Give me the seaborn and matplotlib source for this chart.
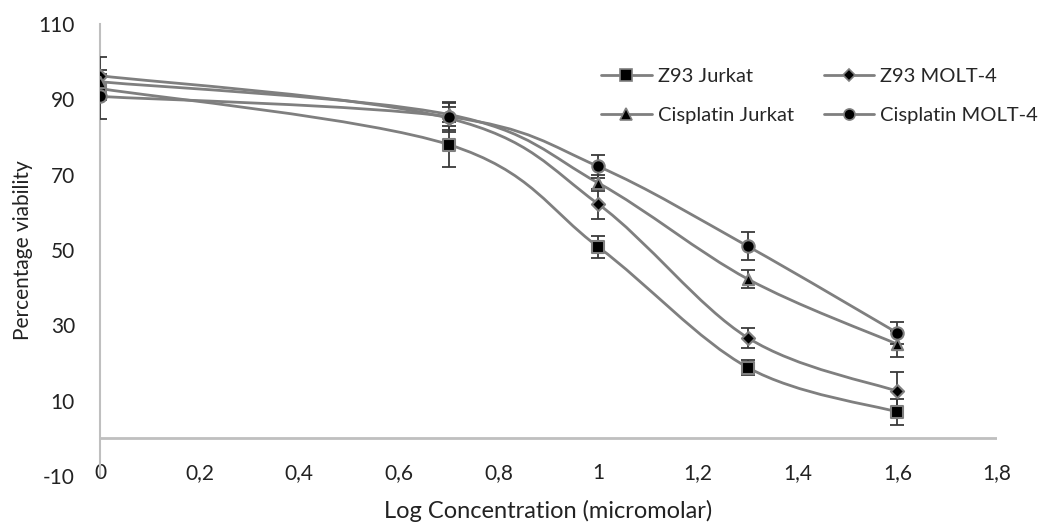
import numpy as np
import pandas as pd
import matplotlib
matplotlib.use("Agg")
import matplotlib.pyplot as plt
from matplotlib.path import Path
from matplotlib.patches import PathPatch
from matplotlib.lines import Line2D
import seaborn as sns

# data
log_conc = [0.0, 0.7, 1.0, 1.3, 1.6]
z93_jurkat = [92.9, 78.0, 50.8, 18.8, 7.0]
z93_jurkat_err = [3.0, 6.0, 3.0, 2.0, 3.5]
z93_molt4 = [96.3, 85.0, 62.2, 26.7, 12.5]
z93_molt4_err = [5.0, 3.0, 4.0, 2.7, 5.0]
cis_jurkat = [94.7, 86.0, 67.8, 42.3, 25.0]
cis_jurkat_err = [3.0, 3.0, 2.0, 2.5, 3.5]
cis_molt4 = [90.8, 85.4, 72.2, 51.0, 28.0]
cis_molt4_err = [6.0, 4.0, 3.0, 3.7, 3.0]

series_names = ["Z93 Jurkat", "Z93 MOLT-4", "Cisplatin Jurkat", "Cisplatin MOLT-4"]
series_vals = [z93_jurkat, z93_molt4, cis_jurkat, cis_molt4]
series_errs = [z93_jurkat_err, z93_molt4_err, cis_jurkat_err, cis_molt4_err]
x_ticks = [0, 0.2, 0.4, 0.6, 0.8, 1.0, 1.2, 1.4, 1.6, 1.8]
x_tick_labels = ["0", "0,2", "0,4", "0,6", "0,8", "1", "1,2", "1,4", "1,6", "1,8"]
y_ticks = [-10, 10, 30, 50, 70, 90, 110]

df = pd.DataFrame({
    "log_conc": np.tile(log_conc, len(series_names)),
    "viability": np.concatenate(series_vals),
    "err": np.concatenate(series_errs),
    "series": np.repeat(series_names, len(log_conc)),
})

sns.set_style("white")
plt.rcParams["font.family"] = ["Lato", "DejaVu Sans"]
plt.rcParams["axes.unicode_minus"] = False

LINE = "#7f7f7f"
TEXT = "#222222"
markers = {"Z93 Jurkat": "s", "Z93 MOLT-4": "D", "Cisplatin Jurkat": "^", "Cisplatin MOLT-4": "o"}
sizes = {"Z93 Jurkat": 80, "Z93 MOLT-4": 45, "Cisplatin Jurkat": 65, "Cisplatin MOLT-4": 80}

fig = plt.figure(figsize=(10.47, 5.23), dpi=100)
ax = fig.add_axes([0.0955, 0.0899, 0.8567, 0.864])


def smooth_path(xs, ys):
    # Excel-like smoothed line: Catmull-Rom segments as cubic Beziers
    p = np.column_stack([xs, ys])
    pts = np.vstack([p[0], p, p[-1]])
    verts = [tuple(p[0])]
    codes = [Path.MOVETO]
    for i in range(1, len(pts) - 2):
        c1 = pts[i] + (pts[i + 1] - pts[i - 1]) / 6
        c2 = pts[i + 1] - (pts[i + 2] - pts[i]) / 6
        verts += [tuple(c1), tuple(c2), tuple(pts[i + 1])]
        codes += [Path.CURVE4] * 3
    return Path(verts, codes)


for name in series_names:
    sub = df[df["series"] == name]
    ax.add_patch(PathPatch(smooth_path(sub["log_conc"], sub["viability"]),
                           facecolor="none", edgecolor=LINE, lw=2, zorder=2))
    ax.errorbar(sub["log_conc"], sub["viability"], yerr=sub["err"], fmt="none",
                ecolor="#3a3a3a", elinewidth=1.3, capsize=5, capthick=1.3, zorder=3)

for name in series_names:
    sub = df[df["series"] == name]
    sns.scatterplot(data=sub, x="log_conc", y="viability", marker=markers[name],
                    s=sizes[name], color="black", edgecolor=LINE, linewidth=1.5,
                    ax=ax, zorder=4, legend=False)

ax.set_xlim(0, 1.8)
ax.set_ylim(-10, 110)
ax.set_xticks(x_ticks)
ax.set_xticklabels(x_tick_labels)
ax.set_yticks(y_ticks)
ax.tick_params(axis="both", length=0, labelsize=15, colors=TEXT)
ax.tick_params(axis="x", pad=-9)
ax.tick_params(axis="y", pad=18)

for s in ["top", "right", "bottom"]:
    ax.spines[s].set_visible(False)
ax.spines["left"].set_color("#bfbfbf")
ax.spines["left"].set_linewidth(1.5)
ax.axhline(0, color="#bfbfbf", lw=2, zorder=1)

ax.set_xlabel("Log Concentration (micromolar)", fontsize=17, color=TEXT, labelpad=12)
ax.set_ylabel("Percentage viability", fontsize=15, color=TEXT, labelpad=4)

handles = [Line2D([0], [0], color=LINE, lw=2, marker=markers[n], markersize=8 if markers[n] != "D" else 6,
                  markerfacecolor="black", markeredgecolor=LINE, markeredgewidth=1.2)
           for n in series_names]
order = [0, 2, 1, 3]
fig.legend([handles[i] for i in order], [series_names[i] for i in order], ncol=2,
           loc="upper left", bbox_to_anchor=(0.557, 0.905), frameon=False, fontsize=14.5,
           handlelength=2.5, columnspacing=1.5, labelspacing=1.1, handletextpad=0.3)

fig.savefig("out.png", dpi=100)
